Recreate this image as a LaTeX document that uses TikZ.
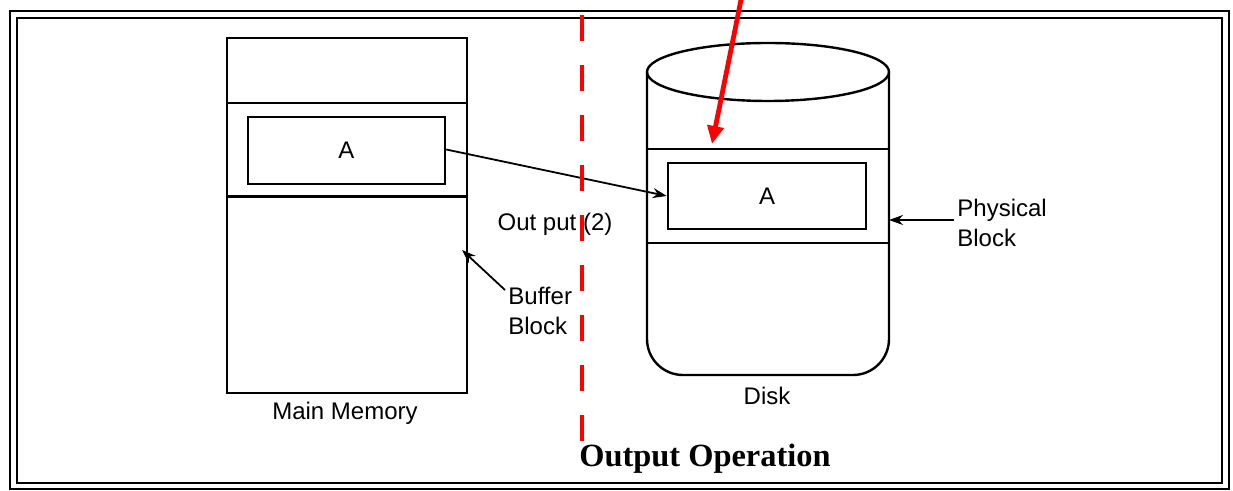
\documentclass[tikz,border=0pt]{standalone}
\usepackage{fontspec}
\setmainfont{Liberation Sans}
\newfontfamily\serifbold{Liberation Serif}
\usetikzlibrary{arrows.meta}
\begin{document}
\begin{tikzpicture}[x=0.5pt,y=-0.5pt,
  box/.style={draw, line width=1.2pt},
  lbl/.style={font=\fontsize{12}{13}\selectfont, inner sep=0pt, align=left},
  conn/.style={line width=0.9pt, -{Stealth[length=7pt,width=5pt]}},
  redline/.style={red, line width=2.4pt}]
\useasboundingbox (0,0) rectangle (1233,491);
% frame
\draw[line width=1pt] (10,11) rectangle (1229,489);
\draw[line width=0.7pt] (17,18) rectangle (1222,483);
% main memory
\draw[box] (227,38) rectangle (467,393);
\draw[line width=0.9pt] (227,103) -- (467,103);
\draw[line width=1.5pt] (227,197) -- (467,197);
\node[box, minimum width=98.5pt, minimum height=33.5pt, inner sep=0pt, lbl] (ma) at (346.5,150.5) {A};
\node[lbl] (mm) at (345,413) {Main Memory};
\coordinate (mmedge) at (462,250);
\node[lbl, anchor=north west] (buf) at (508,287) {Buffer\\[2pt]Block};
\draw[conn] (buf.north west) ++(-3,3) coordinate (bs) -- (mmedge);
% disk
\draw[box, rounded corners=18pt] (647,72) -- (647,375) -- (889,375) -- (889,72);
\draw[box] (768,72) ellipse[x radius=121, y radius=29];
\draw[line width=1.1pt] (647,149) -- (889,149);
\draw[line width=1.1pt] (647,243) -- (889,243);
\node[box, minimum width=99pt, minimum height=33pt, inner sep=0pt, lbl] (da) at (767,196) {A};
\node[lbl] (disk) at (767,396) {Disk};
\node[lbl, anchor=west] (phys) at (957,223) {Physical\\[2pt]Block};
\coordinate (dedge) at (889,220);
\draw[conn] (phys.west |- dedge) ++(-3,0) -- (dedge);
% output arrow
\draw[conn] (ma.east) ++(0,-1) -- (da.west);
\node[lbl] (out) at (555,224) {Out put (2)};
% red dashed line
\draw[redline, dash pattern=on 13pt off 12pt] (582,15) -- (582,446);
\coordinate (rtop) at (742,-5);
\coordinate (rtip) at (712,144);
\draw[redline, -{Triangle[length=9pt,width=8pt]}] (rtop) -- (rtip);
% title
\node[font=\serifbold\bfseries\fontsize{16.2}{18}\selectfont, inner sep=0pt, anchor=west] (title) at (579,459) {Output Operation};
\end{tikzpicture}
\end{document}
